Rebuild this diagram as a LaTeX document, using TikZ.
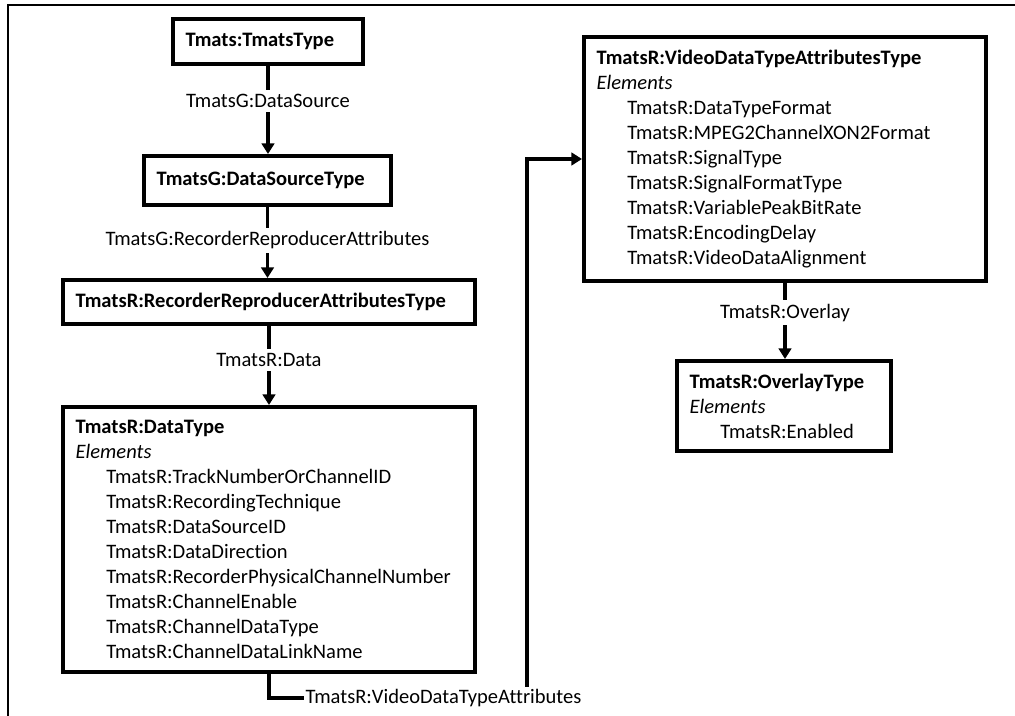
\documentclass[tikz,border=0pt]{standalone}
\usepackage{fontspec}
\setmainfont{Carlito}[Ligatures=NoCommon]
\usetikzlibrary{arrows.meta}

\newcommand{\elem}[1]{\hspace*{23pt}TmatsR:#1}

\begin{document}
\begin{tikzpicture}[x=0.75pt, y=-0.75pt, every node/.style={font=\fontsize{15.4}{18.75}\selectfont}, >={Triangle[length=8pt,width=9.5pt]}]
	\tikzset{
		typebox/.style={draw, line width=3pt, anchor=north west, align=left, inner xsep=9.5pt, inner ysep=0pt},
		rel/.style={fill=white, inner sep=3pt},
		link/.style={line width=2.5pt},
	}
	\useasboundingbox (0,0) rectangle (1015,716);
	% frame
	\draw[line width=2pt] (1015,5) -- (8,5) -- (8,716);
	% left column
	\node[typebox, text width=123.5pt, minimum height=33.75pt] (tmats) at (171,17) {\textbf{Tmats:TmatsType}};
	\node[typebox, text width=166.25pt, minimum height=36.75pt] (dsrc) at (142,154) {\textbf{TmatsG:DataSourceType}};
	\node[typebox, text width=290pt, minimum height=33pt] (rra) at (61,278) {\textbf{TmatsR:RecorderReproducerAttributesType}};
	\node[typebox, text width=290pt, minimum height=198.75pt] (data) at (61,405) {\textbf{TmatsR:DataType}\\
		\textit{Elements}\\
		\elem{TrackNumberOrChannelID}\\
		\elem{RecordingTechnique}\\
		\elem{DataSourceID}\\
		\elem{DataDirection}\\
		\elem{RecorderPhysicalChannelNumber}\\
		\elem{ChannelEnable}\\
		\elem{ChannelDataType}\\
		\elem{ChannelDataLinkName}};
	% right column
	\node[typebox, text width=282.5pt, minimum height=183pt] (video) at (582,35) {\textbf{TmatsR:VideoDataTypeAttributesType}\\
		\textit{Elements}\\
		\elem{DataTypeFormat}\\
		\elem{MPEG2ChannelXON2Format}\\
		\elem{SignalType}\\
		\elem{SignalFormatType}\\
		\elem{VariablePeakBitRate}\\
		\elem{EncodingDelay}\\
		\elem{VideoDataAlignment}};
	\node[typebox, text width=141.5pt, minimum height=67.5pt] (overlay) at (675,359) {\textbf{TmatsR:OverlayType}\\
		\textit{Elements}\\
		\elem{Enabled}};
	% connectors
	\draw[link, ->] (tmats.south) -- node[rel, pos=0.4] (dsrclbl) {TmatsG:DataSource} (tmats.south |- dsrc.north);
	\draw[link, ->] (dsrc.south) -- node[rel, pos=0.47] (rralbl) {TmatsG:RecorderReproducerAttributes} (dsrc.south |- rra.north);
	\draw[link, ->] (rra.south) -- node[rel, pos=0.43] (datalbl) {TmatsR:Data} (rra.south |- data.north);
	\draw[link, ->] (video.south) -- node[rel, pos=0.39] (overlaylbl) {TmatsR:Overlay} (video.south |- overlay.north);
	\node[inner sep=1pt, anchor=west] (videolbl) at (304,698) {TmatsR:VideoDataTypeAttributes};
	\coordinate (videoup) at (527,687);
	\draw[link] (data.south) |- (videolbl.west);
	\draw[link, ->] (videoup) |- (video.west);
\end{tikzpicture}
\end{document}
